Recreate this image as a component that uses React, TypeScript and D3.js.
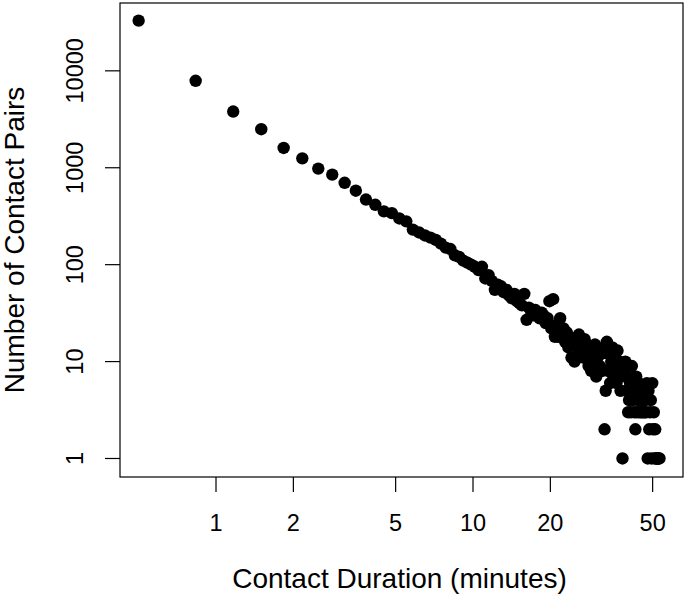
import React, { useEffect } from 'react';
import * as d3 from 'd3';

// contact durations in seconds (20 s bins)
const durationSec = [
  30, 50, 70, 90, 110, 130, 150, 170, 190, 210, 230, 250, 270, 290, 310, 330, 350, 370, 390, 410,
  430, 450, 470, 490, 510, 530, 550, 570, 590, 610, 630, 650, 670, 690, 710, 730, 750, 770, 790, 810,
  830, 850, 870, 890, 910, 930, 950, 970, 990, 1010, 1030, 1050, 1070, 1090, 1110, 1130, 1150, 1170, 1190, 1210,
  1230, 1250, 1270, 1290, 1310, 1330, 1350, 1370, 1390, 1410, 1430, 1450, 1470, 1490, 1510, 1530, 1550, 1570, 1590, 1610,
  1630, 1650, 1670, 1690, 1710, 1730, 1750, 1770, 1790, 1810, 1830, 1850, 1870, 1890, 1910, 1930, 1950, 1970, 1990, 2010,
  2030, 2050, 2070, 2090, 2110, 2130, 2150, 2170, 2190, 2210, 2230, 2250, 2270, 2290, 2310, 2330, 2350, 2370, 2390, 2410,
  2430, 2450, 2470, 2490, 2510, 2530, 2550, 2570, 2590, 2610, 2630, 2650, 2670, 2690, 2710, 2730, 2750, 2770, 2790, 2810,
  2830, 2850, 2870, 2890, 2910, 2930, 2950, 2970, 2990, 3010, 3030, 3050, 3070, 3090, 3110, 3130, 3150, 3170, 3190,
];

// number of contact pairs per bin
const pairCounts = [
  33000, 7900, 3800, 2500, 1600, 1250, 980, 850, 700, 580, 470, 415, 355, 340, 300, 280, 230, 215, 200, 190,
  180, 165, 150, 145, 125, 120, 110, 105, 100, 95, 88, 95, 72, 78, 68, 55, 62, 60, 52, 55,
  48, 45, 50, 42, 40, 38, 50, 27, 36, 33, 30, 34, 31, 28, 32, 30, 25, 28, 42, 22,
  44, 18, 24, 18, 28, 20, 22, 16, 20, 14, 18, 11, 17, 10, 15, 14, 19, 12, 16, 11,
  17, 13, 15, 9, 14, 8, 12, 10, 15, 7, 11, 13, 9, 12, 8, 14, 2, 5, 16, 8,
  12, 6, 10, 14, 7, 9, 11, 6, 13, 8, 10, 5, 7, 1, 9, 8, 10, 5, 7, 3,
  4, 6, 3, 9, 4, 5, 3, 2, 7, 3, 4, 6, 3, 5, 3, 4, 3, 5, 3, 4,
  3, 6, 1, 5, 2, 3, 4, 1, 6, 2, 3, 1, 2, 1, 1, 1, 1, 1, 1,
];

const xTicks = [1, 2, 5, 10, 20, 50];
const yTicks = [1, 10, 100, 1000, 10000];

const W = 686;
const H = 599;
const font = "'Liberation Sans', Arial, sans-serif";

const App = () => {
  useEffect(() => {
    document.body.style.margin = '0';
  }, []);

  const left = 120;
  const right = 683;
  const top = 3;
  const bottom = 477;

  const x = d3.scaleLog().domain([0.4231, 65.63]).range([left, right]);
  const y = d3.scaleLog().domain([Math.pow(10, -0.191), Math.pow(10, 4.7)]).range([bottom, top]);

  const points = durationSec.map((s, i) => ({ m: s / 60, n: pairCounts[i] }));

  return (
    <svg width={W} height={H} style={{ display: 'block', background: '#fff' }}>
      <rect x={left} y={top} width={right - left} height={bottom - top} fill="none" stroke="#000" strokeWidth={1.2} />

      {points.map((d, i) => (
        <circle key={i} cx={x(d.m)} cy={y(d.n)} r={6.2} fill="#000" />
      ))}

      {/* x axis */}
      {xTicks.map((t) => (
        <g key={t}>
          <line x1={x(t)} x2={x(t)} y1={bottom} y2={bottom + 15} stroke="#000" strokeWidth={1.2} />
          <text x={x(t)} y={531} textAnchor="middle" fontFamily={font} fontSize={23.5}>
            {t}
          </text>
        </g>
      ))}

      {/* y axis */}
      {yTicks.map((t) => (
        <g key={t}>
          <line x1={left - 15} x2={left} y1={y(t)} y2={y(t)} stroke="#000" strokeWidth={1.2} />
          <text
            transform={`translate(83,${y(t)}) rotate(-90)`}
            textAnchor="middle"
            fontFamily={font}
            fontSize={23.5}
          >
            {t}
          </text>
        </g>
      ))}

      <text x={(left + right) / 2 - 2} y={588} textAnchor="middle" fontFamily={font} fontSize={28}>
        Contact Duration (minutes)
      </text>
      <text
        transform={`translate(24,${(top + bottom) / 2}) rotate(-90)`}
        textAnchor="middle"
        fontFamily={font}
        fontSize={28}
      >
        Number of Contact Pairs
      </text>
    </svg>
  );
};

export default App;
